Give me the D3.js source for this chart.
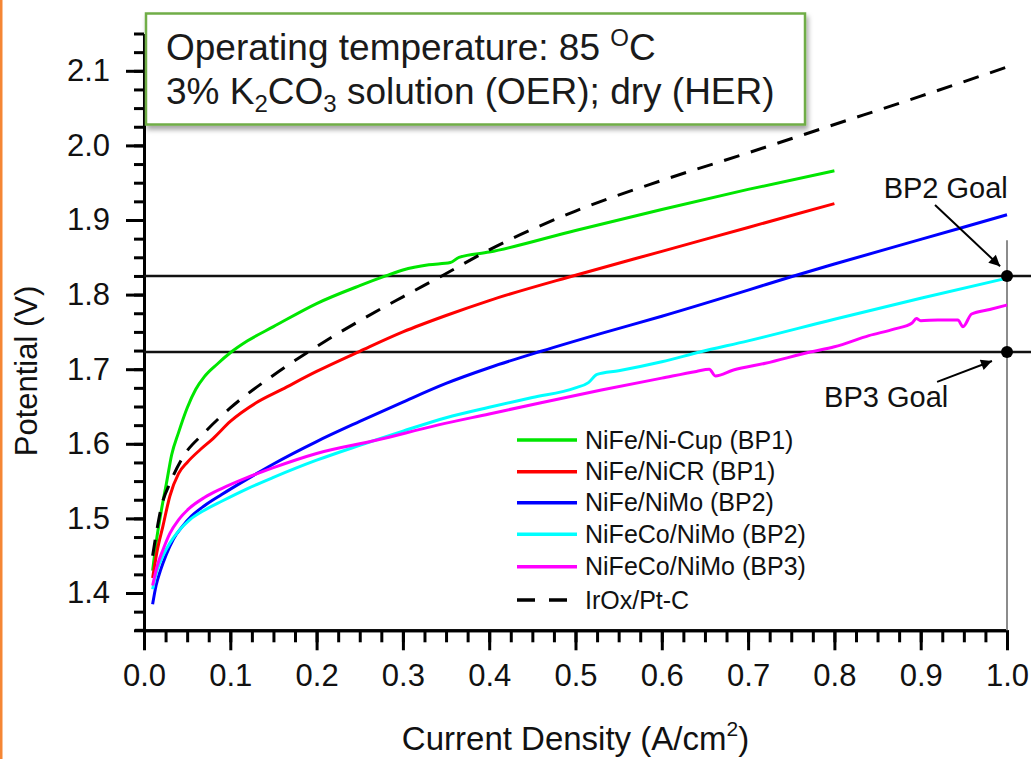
<!DOCTYPE html>
<html>
<head>
<meta charset="utf-8">
<script src="https://cdn.jsdelivr.net/npm/d3@7/dist/d3.min.js"></script>
<style>
  html, body { margin: 0; padding: 0; background: #ffffff; }
  svg { display: block; font-family: "Liberation Sans", Arial, sans-serif; }
</style>
</head>
<body>
<svg id="chart" width="1031" height="759"></svg>
<script>
// ---------------- data ----------------
const seriesNames = ["NiFe/Ni-Cup (BP1)", "NiFe/NiCR (BP1)", "NiFe/NiMo (BP2)", "NiFeCo/NiMo (BP2)", "NiFeCo/NiMo (BP3)", "IrOx/Pt-C"];

const niCupJ = [0.01, 0.015, 0.02, 0.026, 0.032, 0.04, 0.05, 0.06, 0.07, 0.085, 0.1, 0.12, 0.15, 0.2, 0.25, 0.28, 0.3, 0.33, 0.355, 0.365, 0.4, 0.5, 0.6, 0.7, 0.8];
const niCupV = [1.43, 1.475, 1.51, 1.547, 1.585, 1.615, 1.648, 1.673, 1.69, 1.707, 1.722, 1.738, 1.757, 1.788, 1.812, 1.825, 1.833, 1.84, 1.843, 1.85, 1.857, 1.886, 1.914, 1.941, 1.966];

const niCrJ = [0.01, 0.015, 0.022, 0.03, 0.04, 0.05, 0.065, 0.08, 0.1, 0.13, 0.16, 0.2, 0.25, 0.3, 0.35, 0.4, 0.5, 0.6, 0.7, 0.8];
const niCrV = [1.42, 1.455, 1.49, 1.53, 1.56, 1.575, 1.592, 1.607, 1.63, 1.655, 1.673, 1.697, 1.724, 1.75, 1.772, 1.792, 1.826, 1.858, 1.89, 1.922];

const niMoJ = [0.01, 0.014, 0.019, 0.026, 0.034, 0.045, 0.055, 0.07, 0.09, 0.12, 0.15, 0.2, 0.25, 0.3, 0.35, 0.4, 0.46, 0.53, 0.6, 0.7, 0.75, 0.8, 0.9, 1.0];
const niMoV = [1.385, 1.41, 1.43, 1.452, 1.472, 1.49, 1.503, 1.517, 1.532, 1.553, 1.573, 1.603, 1.63, 1.656, 1.681, 1.702, 1.724, 1.748, 1.771, 1.806, 1.824, 1.841, 1.874, 1.907];

const coBP2J = [0.01, 0.015, 0.022, 0.03, 0.04, 0.053, 0.07, 0.09, 0.12, 0.15, 0.2, 0.25, 0.3, 0.35, 0.4, 0.45, 0.5, 0.515, 0.525, 0.55, 0.6, 0.644, 0.7, 0.8, 0.9, 1.0];
const coBP2V = [1.405, 1.43, 1.45, 1.467, 1.483, 1.498, 1.511, 1.523, 1.54, 1.555, 1.578, 1.598, 1.617, 1.635, 1.649, 1.662, 1.675, 1.682, 1.693, 1.698, 1.71, 1.723, 1.738, 1.767, 1.795, 1.822];

const coBP3J = [0.01, 0.015, 0.022, 0.03, 0.04, 0.053, 0.07, 0.09, 0.12, 0.15, 0.2, 0.27, 0.34, 0.4, 0.46, 0.53, 0.6, 0.64, 0.655, 0.662, 0.683, 0.72, 0.772, 0.8, 0.84, 0.87, 0.89, 0.895, 0.9, 0.92, 0.943, 0.949, 0.959, 0.98, 1.0];
const coBP3V = [1.41, 1.435, 1.458, 1.48, 1.498, 1.514, 1.528, 1.54, 1.555, 1.568, 1.587, 1.605, 1.625, 1.64, 1.655, 1.672, 1.688, 1.697, 1.7, 1.691, 1.699, 1.708, 1.723, 1.73, 1.745, 1.754, 1.762, 1.768, 1.765, 1.766, 1.766, 1.757, 1.774, 1.78, 1.786];

const irOxJ = [0.01, 0.015, 0.02, 0.03, 0.045, 0.07, 0.1, 0.15, 0.19, 0.25, 0.3, 0.345, 0.4, 0.5, 0.6, 0.7, 0.8, 0.9, 1.0];
const irOxV = [1.45, 1.485, 1.515, 1.547, 1.582, 1.615, 1.648, 1.692, 1.723, 1.765, 1.797, 1.825, 1.86, 1.912, 1.953, 1.99, 2.028, 2.066, 2.105];

const xTicks = [0.0, 0.1, 0.2, 0.3, 0.4, 0.5, 0.6, 0.7, 0.8, 0.9, 1.0];
const yTicks = [1.4, 1.5, 1.6, 1.7, 1.8, 1.9, 2.0, 2.1];

const goalValues = [1.825, 1.723];
const goalLabels = ["BP2 Goal", "BP3 Goal"];
const goalCurrent = 1.0;

// ---------------- setup ----------------
const svg = d3.select("#chart");
const W = 1031, H = 759;

const x = d3.scaleLinear().domain([0, 1]).range([144, 1007]);
const y = d3.scaleLinear().domain([1.35, 2.15]).range([630.3, 33.5]);

const colors = ["#00e600", "#ff0000", "#0000ff", "#00ffff", "#ff00ff", "#000000"];
const series = [
  {J: niCupJ, V: niCupV}, {J: niCrJ, V: niCrV}, {J: niMoJ, V: niMoV},
  {J: coBP2J, V: coBP2V}, {J: coBP3J, V: coBP3V}, {J: irOxJ, V: irOxV}
];

// defs
const defs = svg.append("defs");
const f = defs.append("filter").attr("id", "shadow").attr("x", "-5%").attr("y", "-10%").attr("width", "115%").attr("height", "135%");
f.append("feDropShadow").attr("dx", 2).attr("dy", 4).attr("stdDeviation", 2.5).attr("flood-color", "#000").attr("flood-opacity", 0.35);
defs.append("marker").attr("id", "arrow").attr("viewBox", "0 0 10 10").attr("refX", 10).attr("refY", 5)
  .attr("markerWidth", 16).attr("markerHeight", 11).attr("markerUnits", "userSpaceOnUse").attr("orient", "auto")
  .append("path").attr("d", "M0,0 L10,5 L0,10 z").attr("fill", "#000");

svg.append("rect").attr("width", W).attr("height", H).attr("fill", "#ffffff");
// orange left edge
svg.append("rect").attr("x", 0).attr("y", 0).attr("width", 2.5).attr("height", H).attr("fill", "#f58634");

// ---------------- axes ----------------
const axisG = svg.append("g").attr("class", "axes");
const minorY = d3.range(1.35, 2.1501, 0.025);
const minorX = d3.range(0, 1.0001, 0.025);

axisG.append("g").attr("transform", "translate(144,0)")
  .call(d3.axisLeft(y).tickValues(minorY).tickSize(10).tickSizeOuter(0).tickFormat(""));
axisG.append("g").attr("transform", "translate(144,0)")
  .call(d3.axisLeft(y).tickValues(yTicks).tickSize(18).tickPadding(16).tickSizeOuter(0).tickFormat(d3.format(".1f")));
axisG.append("g").attr("transform", "translate(0,630.3)")
  .call(d3.axisBottom(x).tickValues(minorX).tickSize(12).tickSizeOuter(0).tickFormat(""));
axisG.append("g").attr("transform", "translate(0,630.3)")
  .call(d3.axisBottom(x).tickValues(xTicks).tickSize(20).tickPadding(14).tickSizeOuter(0).tickFormat(d3.format(".1f")));
// small extension of x axis line to the left
axisG.append("line").attr("x1", 135).attr("x2", x(0)).attr("y1", y(1.35)).attr("y2", y(1.35))
  .attr("stroke", "#000").attr("stroke-width", 3);

axisG.selectAll("path.domain").attr("stroke", "#000").attr("stroke-width", 3);
axisG.selectAll(".tick line").attr("stroke", "#000").attr("stroke-width", 3);
axisG.selectAll(".tick text").attr("font-size", 31).attr("fill", "#111")
  .attr("font-family", "'Liberation Sans', Arial, sans-serif");

// axis titles
svg.append("text").attr("transform", `translate(37,371) rotate(-90)`).attr("text-anchor", "middle")
  .attr("font-size", 31).attr("fill", "#111").text("Potential (V)");
const xt = svg.append("text").attr("x", x(0.5)).attr("y", 750).attr("text-anchor", "middle")
  .attr("font-size", 33).attr("fill", "#111");
xt.append("tspan").text("Current Density (A/cm");
xt.append("tspan").attr("font-size", 21).attr("dy", -14).text("2");
xt.append("tspan").attr("dy", 14).text(")");

// ---------------- goal lines ----------------
const gl = svg.append("g");
gl.append("line").attr("x1", x(goalCurrent)).attr("x2", x(goalCurrent))
  .attr("y1", y(1.873)).attr("y2", y(1.35)).attr("stroke", "#8c8c8c").attr("stroke-width", 2);
gl.selectAll("line.goal").data(goalValues).join("line").attr("class", "goal")
  .attr("x1", x(0)).attr("x2", W).attr("y1", d => y(d)).attr("y2", d => y(d))
  .attr("stroke", "#111").attr("stroke-width", 2.5);

// ---------------- curves ----------------
const line = d3.line().x(d => x(d[0])).y(d => y(d[1])).curve(d3.curveMonotoneX);
series.forEach((s, i) => {
  const pts = s.J.map((j, k) => [j, s.V[k]]);
  svg.append("path").attr("d", line(pts)).attr("fill", "none")
    .attr("stroke", colors[i]).attr("stroke-width", 3)
    .attr("stroke-dasharray", i === 5 ? "16,12" : null)
    .attr("stroke-linejoin", "round");
});

// goal dots
svg.append("g").selectAll("circle").data(goalValues).join("circle")
  .attr("cx", x(goalCurrent)).attr("cy", d => y(d)).attr("r", 6).attr("fill", "#000");

// arrows & labels
const arrowFrom = [[0.9166, 1.920], [0.919, 1.683]];
const arrowTo = [[0.992, 1.838], [0.9826, 1.711]];
const labelPos = [[0.929, 1.9295], [0.86, 1.649]];
arrowFrom.forEach((a, i) => {
  svg.append("line").attr("x1", x(a[0])).attr("y1", y(a[1]))
    .attr("x2", x(arrowTo[i][0])).attr("y2", y(arrowTo[i][1]))
    .attr("stroke", "#000").attr("stroke-width", 2).attr("marker-end", "url(#arrow)");
  svg.append("text").attr("x", x(labelPos[i][0])).attr("y", y(labelPos[i][1]))
    .attr("text-anchor", "middle").attr("font-size", 29).attr("fill", "#111").text(goalLabels[i]);
});

// ---------------- legend ----------------
const legY = [440, 471.7, 502.7, 534.3, 566.7, 600];
const leg = svg.append("g");
seriesNames.forEach((n, i) => {
  leg.append("line").attr("x1", 517).attr("x2", 577).attr("y1", legY[i]).attr("y2", legY[i])
    .attr("stroke", colors[i]).attr("stroke-width", 3.5)
    .attr("stroke-dasharray", i === 5 ? "18,14" : null);
  leg.append("text").attr("x", 585).attr("y", legY[i] + 8.5).attr("font-size", 25)
    .attr("fill", "#111").text(n);
});

// ---------------- info box ----------------
const box = svg.append("g");
box.append("rect").attr("x", 146).attr("y", 13.5).attr("width", 659).attr("height", 111)
  .attr("fill", "#fff").attr("stroke", "#70ad47").attr("stroke-width", 2.5).attr("filter", "url(#shadow)");
const t1 = box.append("text").attr("x", 166).attr("y", 60).attr("font-size", 37).attr("fill", "#1a1a1a");
t1.append("tspan").text("Operating temperature: 85 ");
t1.append("tspan").attr("font-size", 24).attr("dy", -14).text("O");
t1.append("tspan").attr("dy", 14).text("C");
const t2 = box.append("text").attr("x", 166).attr("y", 104).attr("font-size", 37).attr("fill", "#1a1a1a");
t2.append("tspan").text("3% K");
t2.append("tspan").attr("font-size", 24).attr("dy", 8).text("2");
t2.append("tspan").attr("dy", -8).text("CO");
t2.append("tspan").attr("font-size", 24).attr("dy", 8).text("3");
t2.append("tspan").attr("dy", -8).text(" solution (OER); dry (HER)");
</script>
</body>
</html>
